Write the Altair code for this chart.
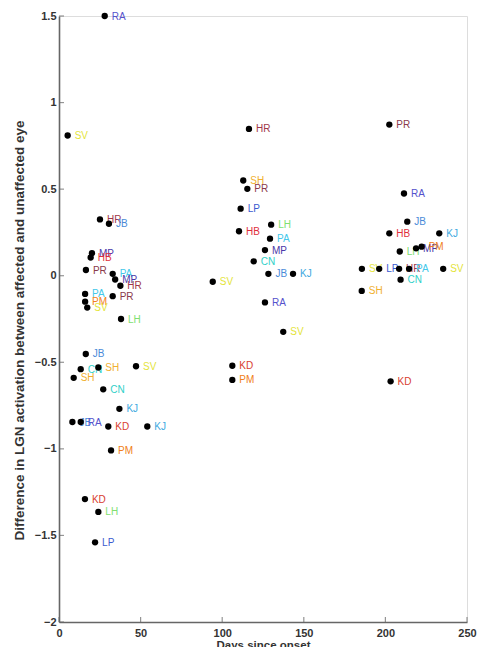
import altair as alt
import pandas as pd

# Days since onset, LGN difference, subject label
days = [28, 5.3, 25.1, 30.6, 20.2, 19.4, 16.5, 32.9, 34.4, 37.6, 16.0, 32.9, 16.0, 17.3, 38.0,
        16.4, 13.3, 24.1, 47.2, 9.0, 27.1, 37.0, 8.2, 13.3, 30.2, 54.1, 31.9, 15.9, 24.1, 22.1,
        116.4, 112.9, 115.4, 111.3, 130.0, 110.3, 129.3, 126.2, 119.3, 128.3, 143.4, 94.2, 126.2,
        137.4, 106.2, 106.2,
        202.4, 211.4, 213.4, 202.4, 233.0, 218.8, 222.2, 208.8, 185.6, 196.2, 208.4, 214.5, 235.4,
        209.3, 185.5, 203.2]
values = [1.50, 0.81, 0.325, 0.30, 0.13, 0.105, 0.033, 0.011, -0.022, -0.058, -0.105, -0.118,
          -0.15, -0.184, -0.25,
          -0.452, -0.54, -0.53, -0.523, -0.59, -0.656, -0.769, -0.845, -0.845, -0.871, -0.871,
          -1.009, -1.29, -1.364, -1.54,
          0.848, 0.55, 0.502, 0.387, 0.295, 0.257, 0.214, 0.148, 0.083, 0.011, 0.011, -0.035,
          -0.154, -0.324, -0.52, -0.602,
          0.873, 0.475, 0.312, 0.245, 0.245, 0.158, 0.168, 0.14, 0.04, 0.04, 0.04, 0.04, 0.04,
          -0.023, -0.088, -0.61]
labels = ["RA", "SV", "HR", "JB", "MP", "HB", "PR", "PA", "MP", "HR", "PA", "PR", "PM", "SV", "LH",
          "JB", "CN", "SH", "SV", "SH", "CN", "KJ", "JB", "RA", "KD", "KJ", "PM", "KD", "LH", "LP",
          "HR", "SH", "PR", "LP", "LH", "HB", "PA", "MP", "CN", "JB", "KJ", "SV", "RA", "SV", "KD", "PM",
          "PR", "RA", "JB", "HB", "KJ", "MP", "PM", "LH", "SV", "LP", "HR", "PA", "SV", "CN", "SH", "KD"]

subjects = ["RA", "SV", "HR", "JB", "MP", "HB", "PR", "PA", "PM", "LH", "SH", "CN", "KJ", "KD", "LP"]
subject_colors = ["#5552cc", "#e4e43a", "#a03848", "#4a8ad8", "#4a38a8", "#e0303c", "#8a3a4a",
                  "#44c8ea", "#f08020", "#80e070", "#f0b030", "#30d0c8", "#40a8e0", "#d84030", "#3a5ad0"]

x_ticks = [0, 50, 100, 150, 200, 250]
y_ticks = [-2, -1.5, -1, -0.5, 0, 0.5, 1, 1.5]

df = pd.DataFrame({"days": days, "diff": values, "subject": labels})
xt = pd.DataFrame({"t": x_ticks})
yt = pd.DataFrame({"t": y_ticks})

W, H = 408, 606
xscale = alt.Scale(domain=[0, 250], nice=False, zero=False)
yscale = alt.Scale(domain=[-2, 1.5], nice=False, zero=False)

axis_common = dict(domainColor="#666666", domainWidth=1.6, tickSize=0, grid=False,
                   labelFont="Liberation Sans", labelFontSize=11, labelColor="#333333",
                   labelFontWeight="bold",
                   titleFont="Liberation Sans", titleColor="#333333",
                   titleFontWeight="bold")

xaxis = alt.Axis(values=x_ticks, title="Days since onset", labelPadding=5, titlePadding=1,
                 titleFontSize=11.5,
                 labelFlush=False, labelOverlap=False, **axis_common)
yaxis = alt.Axis(values=y_ticks, title="Difference in LGN activation between affected and unaffected eye",
                 labelPadding=3, titlePadding=8, titleFontSize=13.5, titleY=314,
                 labelOverlap=False, labelFlush=False,
                 format="~g", **axis_common)

base = alt.Chart(df)

labels_layer = base.mark_text(align="left", baseline="middle", dx=7, dy=0.5,
                              font="Liberation Sans", fontSize=10).encode(
    x=alt.X("days:Q", scale=xscale, axis=xaxis),
    y=alt.Y("diff:Q", scale=yscale, axis=yaxis),
    text="subject:N",
    color=alt.Color("subject:N", scale=alt.Scale(domain=subjects, range=subject_colors), legend=None),
)

dots = base.mark_circle(size=40, color="black", opacity=1).encode(
    x=alt.X("days:Q", scale=xscale),
    y=alt.Y("diff:Q", scale=yscale),
)

xticks_layer = alt.Chart(xt).mark_tick(color="#666666", size=5, thickness=1.2).encode(
    x=alt.X("t:Q", scale=xscale),
    y=alt.value(H - 2.5),
)
yticks_layer = alt.Chart(yt).mark_tick(color="#666666", size=5, thickness=1.2).encode(
    y=alt.Y("t:Q", scale=yscale),
    x=alt.value(2.5),
)

chart = alt.layer(xticks_layer, yticks_layer, labels_layer, dots).properties(
    width=W, height=H,
    autosize=alt.AutoSizeParams(type="none"),
    padding={"left": 51, "top": 8, "right": 11, "bottom": 25},
).configure_view(stroke=None).configure(background="white")

chart.save("out.html", embed_options={"renderer": "svg", "actions": False})
